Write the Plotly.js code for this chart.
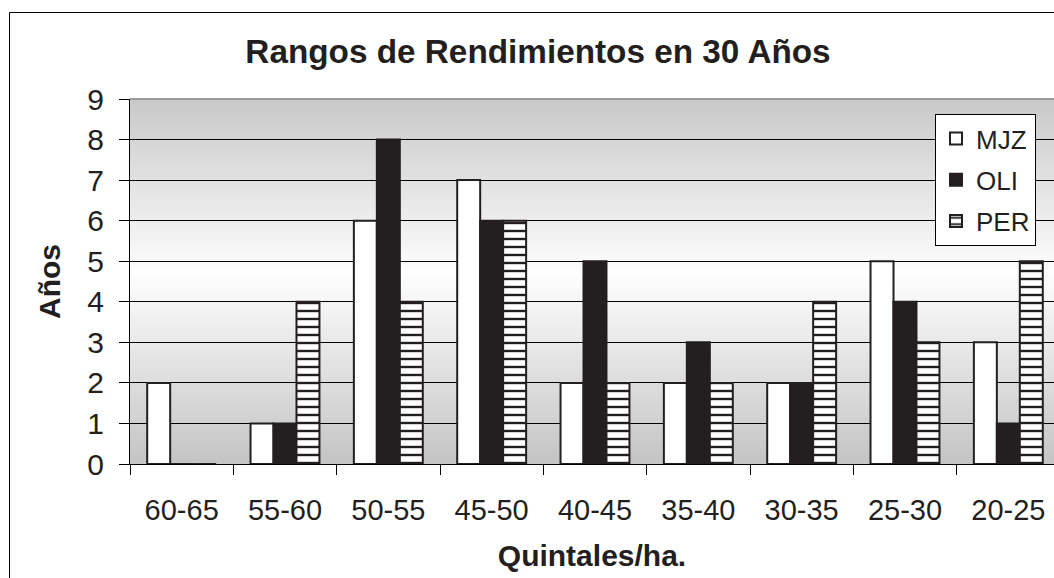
<!DOCTYPE html>
<html>
<head>
<meta charset="utf-8">
<script src="https://cdn.plot.ly/plotly-3.0.1.min.js"></script>
<style>
  html, body { margin: 0; padding: 0; background: #ffffff; }
  #chart { width: 1054px; height: 578px; }
</style>
</head>
<body>
<div id="chart"></div>
<script>
// ---- Data ----
const categories = ['60-65', '55-60', '50-55', '45-50', '40-45', '35-40', '30-35', '25-30', '20-25'];
const seriesNames = ['MJZ', 'OLI', 'PER'];
const mjz = [2, 1, 6, 7, 2, 2, 2, 5, 3];
const oli = [0, 1, 8, 6, 5, 3, 2, 4, 1];
const per = [0, 4, 4, 6, 2, 2, 4, 3, 5];
const yTicks = [0, 1, 2, 3, 4, 5, 6, 7, 8, 9];

const FONT = 'Liberation Sans, Arial, Helvetica, sans-serif';
const INK = '#231f20';

const traces = [
  {
    type: 'bar', name: seriesNames[0], x: categories, y: mjz, legendgroup: 'a',
    marker: { color: '#ffffff', line: { color: INK, width: 2 } }
  },
  {
    type: 'bar', name: seriesNames[1], x: categories, y: oli, legendgroup: 'b',
    marker: { color: INK, line: { color: INK, width: 2 } }
  },
  {
    type: 'bar', name: seriesNames[2], x: categories, y: per, legendgroup: 'c',
    marker: {
      color: '#ffffff',
      line: { color: INK, width: 2 },
      pattern: { shape: '-', fgcolor: INK, bgcolor: '#ffffff', size: 8, solidity: 0.3 }
    }
  }
];

// Gradient background strips for the plot area (style only)
const shapes = [];
const N = 80;
for (let i = 0; i < N; i++) {
  const t = (i + 0.5) / N;           // 0 bottom, 1 top
  const d = Math.abs(t - 0.52) / 0.52;
  const g = Math.round(254 - 58 * Math.min(1, d));
  shapes.push({
    type: 'rect', xref: 'x domain', yref: 'y domain',
    x0: 0, x1: 1, y0: i / N, y1: (i + 1) / N + 0.002,
    fillcolor: `rgb(${g},${g},${g})`, line: { width: 0 }, layer: 'below'
  });
}
// gray top border of plot area
shapes.push({
  type: 'line', xref: 'x domain', yref: 'y domain', x0: 0, x1: 1, y0: 1, y1: 1,
  line: { color: '#9a9a9a', width: 2 }, layer: 'above'
});
// outer chart border (continues beyond the visible frame)
shapes.push({
  type: 'rect', xref: 'paper', yref: 'paper',
  x0: (9.5 - 130) / 924, x1: 1.3, y0: -0.6, y1: (464 - 12.5) / 365,
  line: { color: '#000000', width: 1 }, fillcolor: 'rgba(0,0,0,0)', layer: 'below'
});

const layout = {
  width: 1054, height: 578,
  margin: { l: 130, r: 0, t: 99, b: 114, pad: 0 },
  paper_bgcolor: '#ffffff',
  plot_bgcolor: '#dddddd',
  font: { family: FONT, color: INK },
  title: {
    text: 'Rangos de Rendimientos en 30 Años',
    font: { family: FONT, size: 33.3, weight: 'bold', color: INK },
    xref: 'container', x: 538 / 1054, xanchor: 'center',
    yref: 'container', y: 1 - 51 / 578, yanchor: 'middle'
  },
  barmode: 'group',
  bargap: 0.333,
  bargroupgap: 0,
  showlegend: true,
  legend: {
    x: (935 - 130) / 924, xanchor: 'left',
    y: (464 - 114) / 365, yanchor: 'top',
    bgcolor: '#ffffff', bordercolor: '#000000', borderwidth: 1,
    font: { family: FONT, size: 26, color: INK },
    traceorder: 'grouped', tracegroupgap: 4.5
  },
  xaxis: {
    type: 'category',
    range: [-0.5, 8.442],
    tickson: 'boundaries',
    ticks: 'outside', ticklen: 10, tickcolor: '#000000', tickwidth: 1,
    showline: true, linecolor: '#000000', linewidth: 1,
    showgrid: false, zeroline: false,
    tickfont: { family: FONT, size: 29, color: INK },
    ticklabelstandoff: 20,
    title: {
      text: 'Quintales/ha.',
      font: { family: FONT, size: 30, weight: 'bold', color: INK },
      standoff: 20
    },
    fixedrange: true
  },
  yaxis: {
    range: [0, 9],
    tickvals: yTicks,
    ticks: 'outside', ticklen: 10, tickcolor: '#000000', tickwidth: 1,
    showline: true, linecolor: '#000000', linewidth: 1,
    showgrid: true, gridcolor: '#000000', gridwidth: 1,
    zeroline: false,
    tickfont: { family: FONT, size: 30, color: INK },
    ticklabelstandoff: 9,
    title: {
      text: 'Años',
      font: { family: FONT, size: 30, weight: 'bold', color: INK },
      standoff: 17
    },
    fixedrange: true
  },
  shapes: shapes
};

Plotly.newPlot('chart', traces, layout, { displayModeBar: false, staticPlot: true });
</script>
</body>
</html>
